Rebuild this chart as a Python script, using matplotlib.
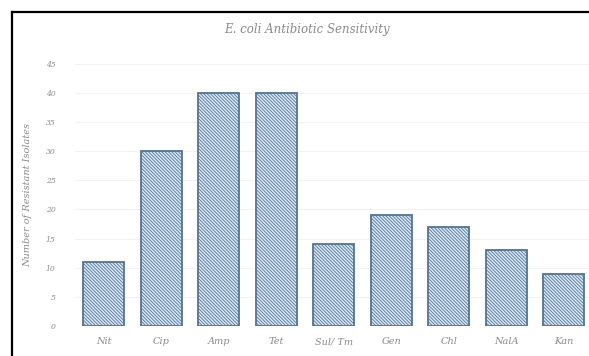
import matplotlib
matplotlib.use("Agg")
import matplotlib.pyplot as plt
from matplotlib.lines import Line2D

antibiotics = ["Nit", "Cip", "Amp", "Tet", "Sul/ Tm", "Gen", "Chl", "NalA", "Kan"]
resistant = [11, 30, 40, 40, 14, 19, 17, 13, 9]
y_ticks = [0, 5, 10, 15, 20, 25, 30, 35, 40, 45]

text_color = "#8a8a8a"
font = dict(family="DejaVu Serif", style="italic", color=text_color)

plt.rcParams["hatch.color"] = "#7b98b5"
plt.rcParams["hatch.linewidth"] = 0.6

fig = plt.figure(figsize=(5.89, 3.56), dpi=100)
ax = fig.add_axes([75 / 589, 30 / 356, 514 / 589, 262.4 / 356])

x = list(range(len(antibiotics)))
ax.bar(x, resistant, width=0.72, color="#d7e9f9", edgecolor="#56738f",
       linewidth=1.3, hatch="\\" * 10, zorder=3)

ax.set_xlim(-0.5, 8.44)
ax.set_ylim(0, 45)
ax.set_yticks(y_ticks)
ax.set_yticklabels([str(t) for t in y_ticks], fontsize=5.5, **font)
ax.set_xticks(x)
ax.set_xticklabels(antibiotics, fontsize=7, **font)
ax.tick_params(length=0, pad=8)
ax.tick_params(axis="y", pad=14)
ax.grid(axis="y", color="#f2f2f2", linewidth=0.8, zorder=0)
for s in ax.spines.values():
    s.set_visible(False)

ax.set_ylabel("Number of Resistant Isolates", fontsize=7, labelpad=10, **font)
fig.text(307 / 589, 1 - 30 / 356, "E. coli Antibiotic Sensitivity",
         ha="center", va="center", fontsize=8.5, **font)

# Outer frame lines along the top and left edges
fx = 11.5 / 589
fy = 1 - 11.5 / 356
fig.add_artist(Line2D([fx, 1], [fy, fy], transform=fig.transFigure,
                      color="black", linewidth=1.6))
fig.add_artist(Line2D([fx, fx], [0, fy], transform=fig.transFigure,
                      color="black", linewidth=1.6))

fig.savefig("out.png", dpi=100)
